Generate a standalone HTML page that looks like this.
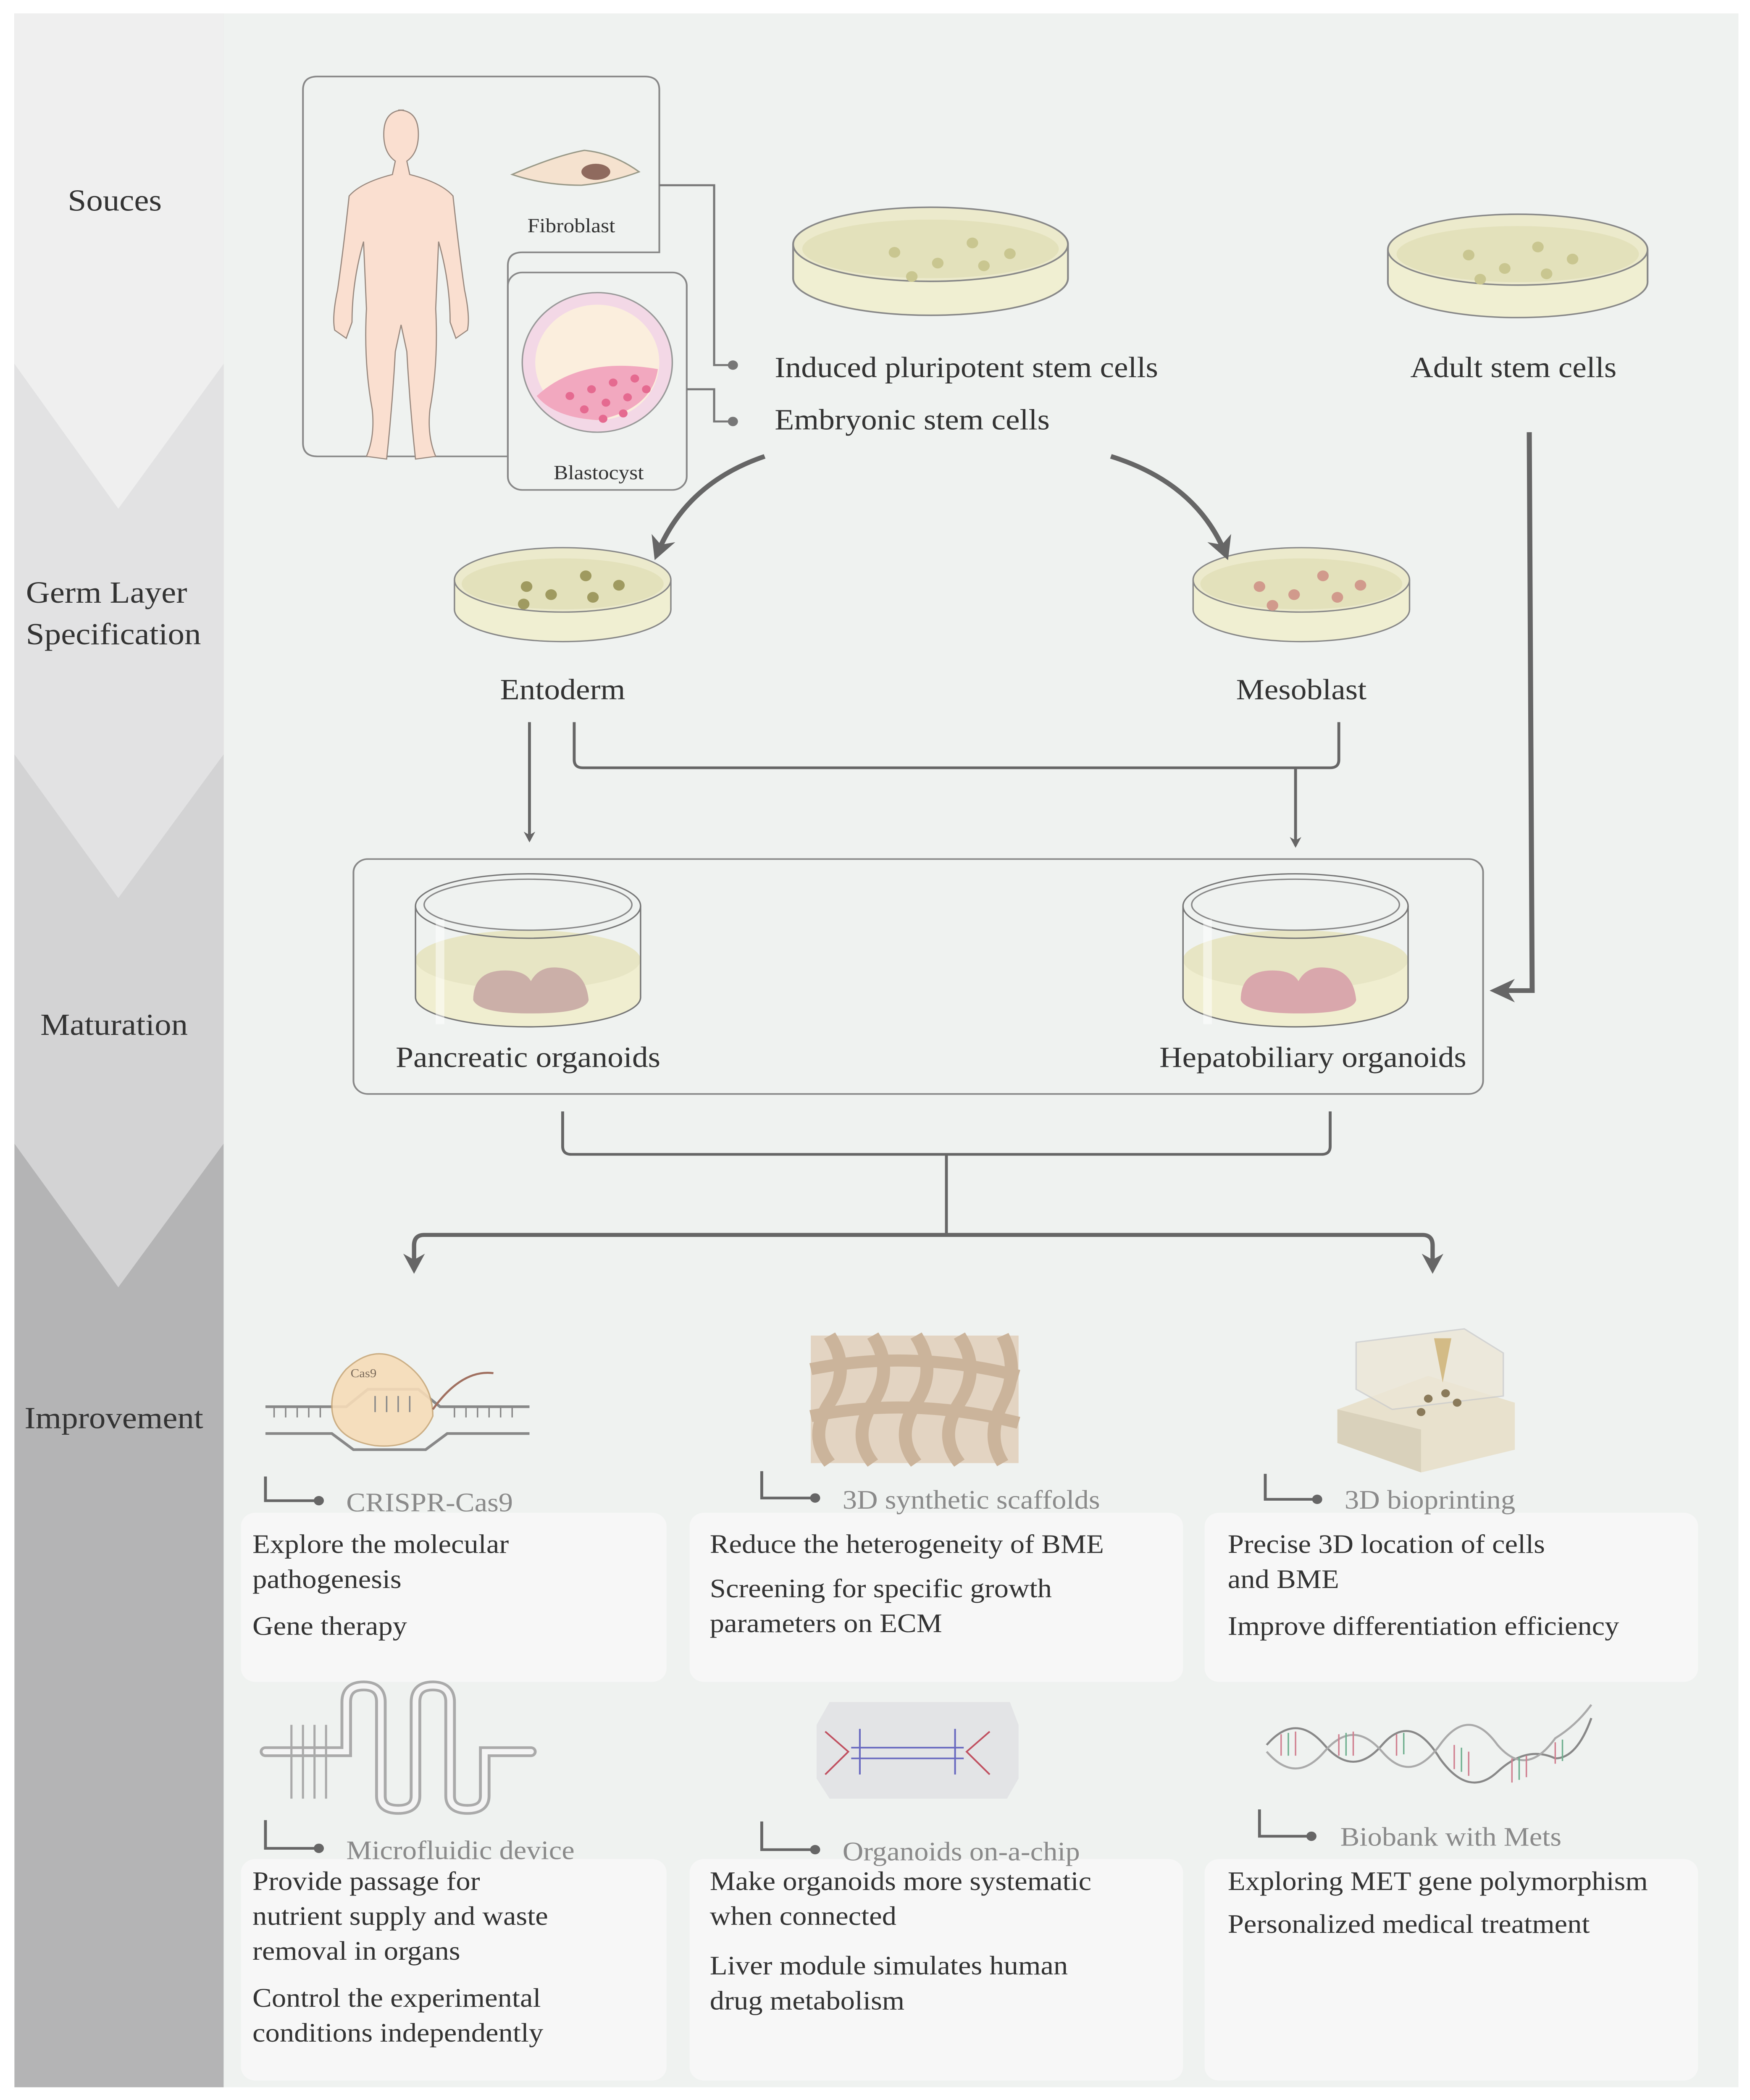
<!DOCTYPE html>
<html><head><meta charset="utf-8"><style>html,body{margin:0;padding:0;background:#fff;overflow:hidden;width:100%;height:100%}svg{display:block;position:fixed;left:0;top:0;width:100vw;height:100vh}text{font-family:"Liberation Serif",serif}</style></head>
<body>
<svg viewBox="0 0 1213 1564.5" preserveAspectRatio="none" xmlns="http://www.w3.org/2000/svg">
<defs>
<marker id="ah" viewBox="0 0 10 10" refX="8" refY="5" markerWidth="5" markerHeight="5" orient="auto"><path d="M0,0 L10,5 L0,10 L3,5 Z" fill="#666"/></marker>
<marker id="ah2" viewBox="0 0 10 10" refX="8" refY="5" markerWidth="4" markerHeight="4" orient="auto"><path d="M0,0 L10,5 L0,10 L3,5 Z" fill="#666"/></marker>
<g id="dish">
<ellipse cx="0" cy="22" rx="75" ry="24" fill="#f0efd2" stroke="#888" stroke-width="1"/>
<rect x="-75" y="0" width="150" height="22" fill="#f0efd2"/>
<line x1="-75" y1="0" x2="-75" y2="22" stroke="#888"/><line x1="75" y1="0" x2="75" y2="22" stroke="#888"/>
<ellipse cx="0" cy="0" rx="75" ry="24" fill="#eceacc" stroke="#888" stroke-width="1"/>
<ellipse cx="0" cy="3" rx="70" ry="19" fill="#e3e1bb"/>
</g>
<g id="cyl">
<ellipse cx="0" cy="68" rx="78" ry="22" fill="#f0eed0" stroke="#777"/>
<rect x="-78" y="40" width="156" height="28" fill="#f0eed0"/>
<ellipse cx="0" cy="40" rx="78" ry="22" fill="#e7e5c4"/>
<line x1="-78" y1="0" x2="-78" y2="68" stroke="#777"/><line x1="78" y1="0" x2="78" y2="68" stroke="#777"/>
<ellipse cx="0" cy="0" rx="78" ry="24" fill="none" stroke="#777"/>
<ellipse cx="0" cy="-1" rx="72" ry="19" fill="none" stroke="#888"/>
<rect x="-64" y="10" width="6" height="78" fill="#fff" opacity="0.5"/>
</g>
</defs>
<rect width="1213" height="1564.5" fill="#fff"/>
<rect x="10" y="10" width="1195" height="1545" fill="#eff2f0"/>
<rect x="10" y="10" width="145" height="1545" fill="#b4b4b5"/>
<polygon points="10,10 155,10 155,852 82,959 10,852" fill="#d3d3d4"/>
<polygon points="10,10 155,10 155,562 82,669 10,562" fill="#e2e2e3"/>
<polygon points="10,10 155,10 155,271 82,379 10,271" fill="#efefef"/>
<g font-size="23" fill="#333">
<text x="47" y="157">Souces</text>
<text x="18" y="449">Germ Layer</text>
<text x="18" y="480">Specification</text>
<text x="28" y="771">Maturation</text>
<text x="17" y="1064">Improvement</text>
</g>
<path d="M220,57 H447 Q457,57 457,67 V188 H362 Q352,188 352,198 V340 H220 Q210,340 210,330 V67 Q210,57 220,57 Z" fill="none" stroke="#888" stroke-width="1.2"/>
<rect x="352" y="203" width="124" height="162" rx="10" fill="none" stroke="#888" stroke-width="1.2"/>
<path d="M280,82 q-14,0 -14,18 q0,14 8,20 l-2,10 q-22,6 -30,16 q-4,40 -8,70 q-4,20 -2,30 l8,6 l4,-12 q0,-30 8,-60 l2,50 q-2,40 4,75 q2,20 -4,35 l14,2 q4,-40 6,-80 l4,-20 l4,20 q2,40 6,80 l14,-2 q-6,-15 -4,-35 q6,-35 4,-75 l2,-50 q8,30 8,60 l4,12 l8,-6 q2,-10 -2,-30 q-4,-30 -8,-70 q-8,-10 -30,-16 l-2,-10 q8,-6 8,-20 q0,-18 -14,-18 z" fill="#fadfd0" stroke="#9a8a80" stroke-width="0.8"/>
<path d="M355,130 q30,-14 50,-18 q20,2 38,16 q-20,8 -40,10 q-26,0 -48,-8z" fill="#f5e2cf" stroke="#998"/>
<ellipse cx="413" cy="128" rx="10" ry="6" fill="#8f6a5e"/>
<text x="396" y="173" font-size="15" fill="#333" text-anchor="middle">Fibroblast</text>
<circle cx="414" cy="270" r="52" fill="#f3d8e6" stroke="#999"/>
<circle cx="414" cy="270" r="43" fill="#fbeedd"/>
<path d="M372,295 q30,-30 84,-20 q-4,30 -42,38 q-30,-2 -42,-18z" fill="#f2a8bf"/>
<g fill="#e56a90"><circle cx="395" cy="295" r="3"/><circle cx="410" cy="290" r="3"/><circle cx="425" cy="285" r="3"/><circle cx="440" cy="282" r="3"/><circle cx="405" cy="305" r="3"/><circle cx="420" cy="300" r="3"/><circle cx="435" cy="296" r="3"/><circle cx="448" cy="290" r="3"/><circle cx="418" cy="312" r="3"/><circle cx="432" cy="308" r="3"/></g>
<text x="415" y="357" font-size="15" fill="#333" text-anchor="middle">Blastocyst</text>
<path d="M457,138 H495 V272 H508" fill="none" stroke="#777" stroke-width="1.5"/><circle cx="508" cy="272" r="3.5" fill="#777"/>
<path d="M476,290 H495 V314 H508" fill="none" stroke="#777" stroke-width="1.5"/><circle cx="508" cy="314" r="3.5" fill="#777"/>
<text x="537" y="281" font-size="22" fill="#333">Induced pluripotent stem cells</text>
<text x="537" y="320" font-size="22" fill="#333">Embryonic stem cells</text>
<text x="1049" y="281" font-size="22" fill="#333" text-anchor="middle">Adult stem cells</text>
<use href="#dish" transform="translate(645,182) scale(1.27,1.15)"/>
<g fill="#c9c690"><circle cx="620" cy="188" r="4"/><circle cx="650" cy="196" r="4"/><circle cx="674" cy="181" r="4"/><circle cx="700" cy="189" r="4"/><circle cx="632" cy="206" r="4"/><circle cx="682" cy="198" r="4"/></g>
<use href="#dish" transform="translate(1052,186) scale(1.2,1.1)"/>
<g fill="#c9c690"><circle cx="1018" cy="190" r="4"/><circle cx="1043" cy="200" r="4"/><circle cx="1066" cy="184" r="4"/><circle cx="1090" cy="193" r="4"/><circle cx="1026" cy="208" r="4"/><circle cx="1072" cy="204" r="4"/></g>
<use href="#dish" transform="translate(390,432)"/>
<g fill="#9f9a60"><circle cx="365" cy="437" r="4"/><circle cx="382" cy="443" r="4"/><circle cx="406" cy="429" r="4"/><circle cx="429" cy="436" r="4"/><circle cx="363" cy="450" r="4"/><circle cx="411" cy="445" r="4"/></g>
<use href="#dish" transform="translate(902,432)"/>
<g fill="#d19a8c"><circle cx="873" cy="437" r="4"/><circle cx="897" cy="443" r="4"/><circle cx="917" cy="429" r="4"/><circle cx="943" cy="436" r="4"/><circle cx="882" cy="451" r="4"/><circle cx="927" cy="445" r="4"/></g>
<path d="M530,340 Q475,360 455,414" fill="none" stroke="#666" stroke-width="3.5" marker-end="url(#ah)"/>
<path d="M770,340 Q830,360 850,414" fill="none" stroke="#666" stroke-width="3.5" marker-end="url(#ah)"/>
<text x="390" y="521" font-size="22" fill="#333" text-anchor="middle">Entoderm</text>
<text x="902" y="521" font-size="22" fill="#333" text-anchor="middle">Mesoblast</text>
<path d="M1060,322 L1062,738 H1036" fill="none" stroke="#666" stroke-width="3.5" marker-end="url(#ah)"/>
<path d="M367,538 V626" fill="none" stroke="#666" stroke-width="2" marker-end="url(#ah2)"/>
<path d="M398,538 V566 Q398,572 404,572 H922 Q928,572 928,566 V538" fill="none" stroke="#666" stroke-width="2"/>
<path d="M898,572 V630" fill="none" stroke="#666" stroke-width="2" marker-end="url(#ah2)"/>
<rect x="245" y="640" width="783" height="175" rx="10" fill="none" stroke="#888" stroke-width="1.2"/>
<use href="#cyl" transform="translate(366,675)"/>
<path d="M328,745 q0,-22 22,-22 q14,0 18,8 q6,-12 20,-10 q18,2 20,24 q-2,10 -40,10 q-36,0 -40,-10z" fill="#cbafa8"/>
<use href="#cyl" transform="translate(898,675)"/>
<path d="M860,745 q0,-22 22,-22 q14,0 18,8 q6,-12 20,-10 q18,2 20,24 q-2,10 -40,10 q-36,0 -40,-10z" fill="#d9a7ac"/>
<text x="366" y="795" font-size="22" fill="#333" text-anchor="middle">Pancreatic organoids</text>
<text x="910" y="795" font-size="22" fill="#333" text-anchor="middle">Hepatobiliary organoids</text>
<path d="M390,828 V854 Q390,860 396,860 H916 Q922,860 922,854 V828" fill="none" stroke="#666" stroke-width="2"/>
<path d="M656,860 V920" fill="none" stroke="#666" stroke-width="2"/>
<path d="M656,920 H294 Q287,920 287,928 V946" fill="none" stroke="#666" stroke-width="3" marker-end="url(#ah)"/>
<path d="M656,920 H986 Q993,920 993,928 V946" fill="none" stroke="#666" stroke-width="3" marker-end="url(#ah)"/>
<g fill="#f7f7f7">
<rect x="167" y="1127" width="295" height="126" rx="10"/><rect x="478" y="1127" width="342" height="126" rx="10"/><rect x="835" y="1127" width="342" height="126" rx="10"/>
<rect x="167" y="1385" width="295" height="165" rx="10"/><rect x="478" y="1385" width="342" height="165" rx="10"/><rect x="835" y="1385" width="342" height="165" rx="10"/>
</g>
<g fill="none" stroke="#666" stroke-width="2">
<path d="M184,1100 V1118 H220"/><path d="M528,1096 V1116 H564"/><path d="M877,1098 V1117 H912"/>
<path d="M184,1356 V1377 H220"/><path d="M528,1357 V1378 H564"/><path d="M873,1348 V1368 H908"/>
</g>
<g fill="#666"><circle cx="221" cy="1118" r="3.5"/><circle cx="565" cy="1116" r="3.5"/><circle cx="913" cy="1117" r="3.5"/><circle cx="221" cy="1377" r="3.5"/><circle cx="565" cy="1378" r="3.5"/><circle cx="909" cy="1368" r="3.5"/></g>
<g font-size="20" fill="#8a8a8a">
<text x="240" y="1126">CRISPR-Cas9</text><text x="584" y="1124">3D synthetic scaffolds</text><text x="932" y="1124">3D bioprinting</text>
<text x="240" y="1385">Microfluidic device</text><text x="584" y="1386">Organoids on-a-chip</text><text x="929" y="1375">Biobank with Mets</text>
</g>
<g font-size="20" fill="#333">
<text x="175" y="1157">Explore the molecular</text><text x="175" y="1183">pathogenesis</text><text x="175" y="1218">Gene therapy</text>
<text x="492" y="1157">Reduce the heterogeneity of BME</text><text x="492" y="1190">Screening for specific growth</text><text x="492" y="1216">parameters on ECM</text>
<text x="851" y="1157">Precise 3D location of  cells</text><text x="851" y="1183">and BME</text><text x="851" y="1218">Improve differentiation efficiency</text>
<text x="175" y="1408">Provide passage for</text><text x="175" y="1434">nutrient supply and waste</text><text x="175" y="1460">removal in organs</text><text x="175" y="1495">Control the experimental</text><text x="175" y="1521">conditions independently</text>
<text x="492" y="1408">Make organoids more systematic</text><text x="492" y="1434">when connected</text><text x="492" y="1471">Liver module simulates human</text><text x="492" y="1497">drug metabolism</text>
<text x="851" y="1408">Exploring MET gene polymorphism</text><text x="851" y="1440">Personalized medical treatment</text>
</g>
<g stroke="#888" stroke-width="2" fill="none">
<path d="M184,1048 H240 L255,1035 H290 L305,1048 H367"/><path d="M184,1068 H230 L245,1080 H295 L310,1068 H367"/>
</g>
<path d="M240,1020 q20,-20 40,-5 q20,15 20,40 q-10,25 -40,22 q-30,-5 -30,-30 q0,-15 10,-27z" fill="#f6dcb8" stroke="#c9a87a" opacity="0.9"/>
<text x="243" y="1026" font-size="9" fill="#7a6a5a">Cas9</text>
<path d="M300,1050 q20,-30 42,-27" fill="none" stroke="#a07060" stroke-width="1.5"/>
<g stroke="#888" stroke-width="1"><path d="M190,1048 v8 M198,1048 v8 M206,1048 v8 M214,1048 v8 M222,1048 v8 M315,1048 v8 M323,1048 v8 M331,1048 v8 M339,1048 v8 M347,1048 v8 M355,1048 v8 M260,1040 v12 M268,1040 v12 M276,1040 v12 M284,1040 v12"/></g>
<rect x="562" y="995" width="144" height="95" fill="#e3d4c2"/>
<g stroke="#cbb49b" stroke-width="9" fill="none">
<path d="M575,995 q15,25 0,50 q-15,25 0,45"/><path d="M605,995 q15,25 0,50 q-15,25 0,45"/><path d="M635,995 q15,25 0,50 q-15,25 0,45"/><path d="M665,995 q15,25 0,50 q-15,25 0,45"/><path d="M695,995 q12,25 0,50 q-12,25 0,45"/>
<path d="M562,1020 q70,-15 144,5"/><path d="M562,1055 q70,-15 144,5"/>
</g>
<polygon points="927,1050 990,1025 1050,1045 1050,1080 985,1097 927,1075" fill="#e8e1cd"/>
<polygon points="927,1050 985,1065 985,1097 927,1075" fill="#d9d1bb"/>
<polygon points="940,1000 1015,990 1042,1008 1042,1040 965,1050 940,1035" fill="#ece6d6" opacity="0.8" stroke="#ccc"/>
<polygon points="994,997 1006,997 1000,1030" fill="#d3bb86"/>
<g fill="#8a7a5a"><circle cx="990" cy="1042" r="3"/><circle cx="1002" cy="1038" r="3"/><circle cx="1010" cy="1045" r="3"/><circle cx="985" cy="1052" r="3"/></g>
<g fill="none" stroke="#aaa" stroke-width="8" stroke-linecap="round">
<path d="M184,1305 H240 V1268 q0,-12 12,-12 q12,0 12,12 V1338 q0,10 12,10 q12,0 12,-10 V1268 q0,-12 12,-12 q12,0 12,12 V1338 q0,10 12,10 q12,0 12,-10 V1305 H368"/>
</g>
<g fill="none" stroke="#f4f4f4" stroke-width="4" stroke-linecap="round">
<path d="M184,1305 H240 V1268 q0,-12 12,-12 q12,0 12,12 V1338 q0,10 12,10 q12,0 12,-10 V1268 q0,-12 12,-12 q12,0 12,12 V1338 q0,10 12,10 q12,0 12,-10 V1305 H368"/>
</g>
<g stroke="#aaa" stroke-width="1.5"><path d="M202,1285 V1340 M210,1285 V1340 M218,1285 V1340 M226,1285 V1340"/></g>
<polygon points="575,1268 700,1268 706,1285 706,1325 698,1340 575,1340 566,1325 566,1285" fill="#e3e4e6"/>
<g stroke="#6a6ac0" stroke-width="1.2"><path d="M590,1302 H668 M590,1310 H668 M596,1288 V1322 M662,1288 V1322"/></g>
<g stroke="#c05060" stroke-width="1.2" fill="none"><path d="M572,1290 L588,1305 L572,1322 M686,1290 L670,1305 L686,1322"/></g>
<g fill="none" stroke-width="1.5">
<path d="M878,1300 q20,-25 40,0 q20,25 40,0 q20,-25 40,10 q20,30 40,10 q20,-20 40,-10 q15,0 25,-30" stroke="#888"/>
<path d="M878,1305 q20,25 40,0 q20,-25 40,0 q20,25 40,-5 q20,-30 40,0 q20,25 40,-5 q15,-10 25,-25" stroke="#aaa"/>
</g>
<g stroke-width="1"><path d="M888,1292 v16 M898,1290 v18 M928,1292 v16 M938,1290 v18 M968,1292 v16 M1008,1300 v18 M1018,1305 v18 M1048,1310 v18 M1058,1308 v16 M1078,1298 v16" stroke="#d08090"/><path d="M893,1291 v17 M933,1291 v17 M973,1291 v16 M1013,1302 v18 M1053,1309 v17 M1083,1296 v16" stroke="#70b090"/></g>
</svg>
</body></html>
